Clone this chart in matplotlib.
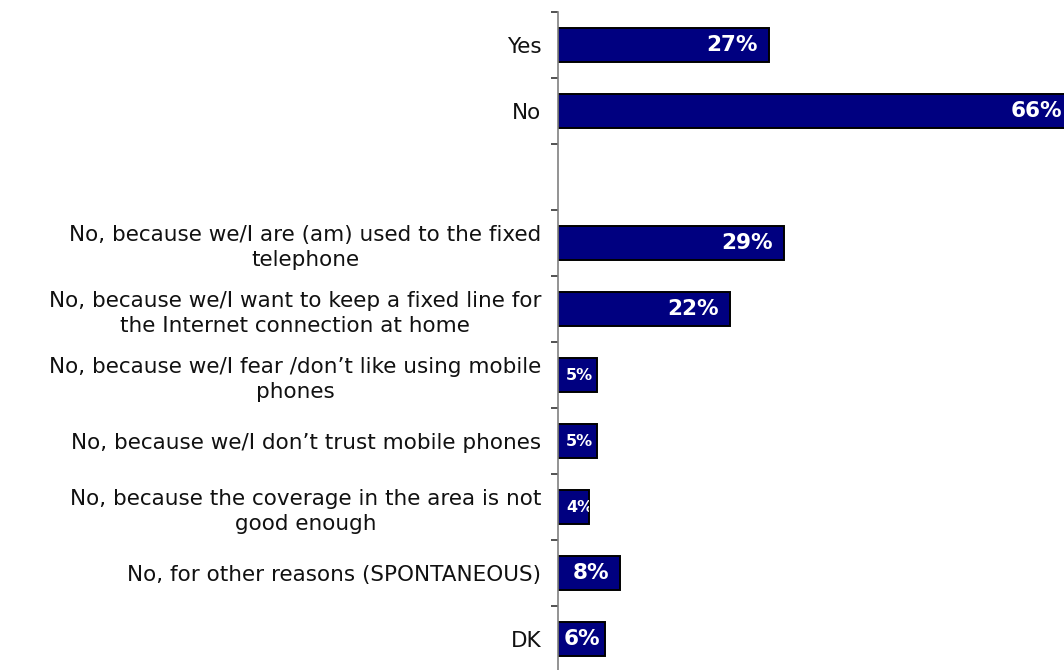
import matplotlib
matplotlib.use("Agg")
import matplotlib.pyplot as plt
import numpy as np

# Survey responses (percent), top to bottom; an empty slot separates the breakdown
categories = [
    "Yes",
    "No",
    "",
    "No, because we/I are (am) used to the fixed\ntelephone",
    "No, because we/I want to keep a fixed line for\nthe Internet connection at home",
    "No, because we/I fear /don\u2019t like using mobile\nphones",
    "No, because we/I don\u2019t trust mobile phones",
    "No, because the coverage in the area is not\ngood enough",
    "No, for other reasons (SPONTANEOUS)",
    "DK",
]
values = [27, 66, None, 29, 22, 5, 5, 4, 8, 6]
value_labels = ["27%", "66%", "", "29%", "22%", "5%", "5%", "4%", "8%", "6%"]

W, H, DPI = 1064, 670, 100
fig = plt.figure(figsize=(W / DPI, H / DPI), dpi=DPI)

px_per_pct = 7.8
x0_px = 558
top_px, slot_px = 12, 66
n = len(categories)
ax_left = x0_px / W
ax_width = (W - x0_px) / W
ax_top = 1 - top_px / H
ax_h = n * slot_px / H
ax = fig.add_axes([ax_left, ax_top - ax_h, ax_width, ax_h])

ypos = np.arange(n)
navy = "#000080"
for i, (v, lab) in enumerate(zip(values, value_labels)):
    if v is None:
        continue
    bars = ax.barh(i, v, height=0.52, color=navy, edgecolor="black",
                   linewidth=1.4, zorder=2)
    if v <= 5:
        # short bars: small label starting just right of the axis, kept inside the bar
        t = ax.annotate(lab, xy=(0, i), xytext=(8, 0),
                        textcoords="offset pixels", ha="left", va="center",
                        color="white", fontweight="bold", fontsize=11.5,
                        zorder=3)
        t.set_clip_path(bars[0])
    else:
        off = -5 if v < 7 else -11
        ax.annotate(lab, xy=(v, i), xytext=(off, 0),
                    textcoords="offset pixels", ha="right", va="center",
                    color="white", fontweight="bold", fontsize=15.5,
                    annotation_clip=False, clip_on=False, zorder=3)

ax.set_xlim(0, (W - x0_px) / px_per_pct)
ax.set_ylim(n - 0.5, -0.5)

for s in ["top", "right", "bottom"]:
    ax.spines[s].set_visible(False)
ax.spines["left"].set_color("#808080")
ax.spines["left"].set_linewidth(1.2)
ax.set_xticks([])

ax.set_yticks(ypos)
ax.set_yticklabels(categories, fontsize=15.5, color="#111111",
                   multialignment="center", linespacing=1.3)
ax.tick_params(axis="y", which="major", length=0, pad=12)
ax.set_yticks(np.arange(n + 1) - 0.5, minor=True)
ax.tick_params(axis="y", which="minor", length=5, width=1.2, color="#333333",
               direction="out")

fig.savefig("out.png", dpi=DPI)
